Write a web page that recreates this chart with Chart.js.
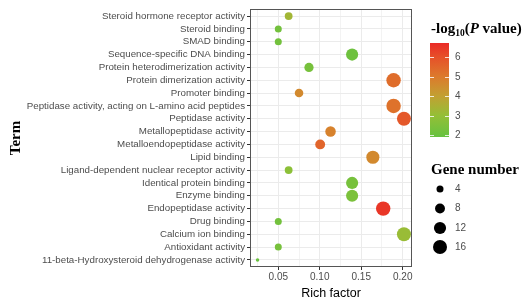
<!DOCTYPE html>
<html>
<head>
    <title>GO enrichment bubble chart</title>
    <style>
        body {
            margin: 0;
            padding: 0;
            background: #ffffff;
        }
        canvas {
            display: block;
        }
    </style>
    <script src="https://cdn.jsdelivr.net/npm/chart.js"></script>
</head>
<body>
    <canvas id="richChart" width="530" height="303"></canvas>

    <script>
        // Terms, top to bottom
        const terms = [
            'Steroid hormone receptor activity',
            'Steroid binding',
            'SMAD binding',
            'Sequence-specific DNA binding',
            'Protein heterodimerization activity',
            'Protein dimerization activity',
            'Promoter binding',
            'Peptidase activity, acting on L-amino acid peptides',
            'Peptidase activity',
            'Metallopeptidase activity',
            'Metalloendopeptidase activity',
            'Lipid binding',
            'Ligand-dependent nuclear receptor activity',
            'Identical protein binding',
            'Enzyme binding',
            'Endopeptidase activity',
            'Drug binding',
            'Calcium ion binding',
            'Antioxidant activity',
            '11-beta-Hydroxysteroid dehydrogenase activity'
        ];
        const richFactor = [0.0625, 0.05, 0.05, 0.139, 0.087, 0.189, 0.075, 0.189, 0.2015, 0.113,
                            0.1005, 0.164, 0.0625, 0.139, 0.139, 0.1765, 0.05, 0.2015, 0.05, 0.025];
        const geneNumber = [5, 4, 4, 12, 7, 17, 6, 17, 16, 9,
                            8, 14, 5, 12, 12, 17, 4, 16, 4, 1];
        const logP = [3.3, 2.2, 2.2, 2.1, 2.3, 5.3, 4.6, 5.2, 5.8, 4.8,
                      5.5, 4.6, 2.8, 2.3, 2.4, 6.5, 2.2, 3.1, 2.3, 2.0];

        const xTicks = [0.05, 0.10, 0.15, 0.20];
        const xMinorTicks = [0.025, 0.075, 0.125, 0.175];
        const colorTicks = [2, 3, 4, 5, 6];
        const sizeTicks = [4, 8, 12, 16];

        // colour scale (green -> red) and size scale
        const colorMin = 1.9, colorMax = 6.72;
        const colorStops = [
            [1.9, [102, 194, 64]],
            [3.0, [148, 191, 54]],
            [4.0, [194, 160, 50]],
            [5.0, [220, 122, 44]],
            [6.0, [230, 80, 41]],
            [6.72, [234, 42, 38]]
        ];
        function colorFor(v) {
            for (let i = 1; i < colorStops.length; i++) {
                if (v <= colorStops[i][0] || i === colorStops.length - 1) {
                    const a = colorStops[i - 1], b = colorStops[i];
                    const t = Math.max(0, Math.min(1, (v - a[0]) / (b[0] - a[0])));
                    const c = a[1].map((ch, k) => Math.round(ch + (b[1][k] - ch) * t));
                    return `rgb(${c[0]},${c[1]},${c[2]})`;
                }
            }
        }
        function radiusFor(n) {
            return 1.75 * Math.sqrt(n);
        }

        const points = terms.map((t, i) => ({ x: richFactor[i], y: i, r: radiusFor(geneNumber[i]) }));

        const panelBox = {
            id: 'panelBox',
            afterDatasetsDraw(chart) {
                const { ctx, chartArea: a } = chart;
                ctx.save();
                ctx.strokeStyle = '#555555';
                ctx.lineWidth = 1;
                ctx.strokeRect(a.left + 0.5, a.top + 0.5, a.right - a.left - 1, a.bottom - a.top - 1);
                ctx.restore();
            }
        };

        const sideLegend = {
            id: 'sideLegend',
            afterDraw(chart) {
                const ctx = chart.ctx;
                ctx.save();
                ctx.textBaseline = 'alphabetic';
                ctx.fillStyle = '#000';

                // colour legend title: -log10(P value)
                let x = 431, y = 33;
                ctx.font = 'bold 15px "Liberation Serif"';
                ctx.fillText('-log', x, y);
                x += ctx.measureText('-log').width;
                ctx.font = 'bold 9.5px "Liberation Serif"';
                ctx.fillText('10', x, y + 3);
                x += ctx.measureText('10').width;
                ctx.font = 'bold 15px "Liberation Serif"';
                ctx.fillText('(', x, y);
                x += ctx.measureText('(').width;
                ctx.font = 'italic bold 15px "Liberation Serif"';
                ctx.fillText('P', x, y);
                x += ctx.measureText('P').width;
                ctx.font = 'bold 15px "Liberation Serif"';
                ctx.fillText(' value)', x, y);

                // colour bar
                const barL = 430, barR = 449, barT = 43, barB = 137;
                const yOf = v => barB - (v - colorMin) / (colorMax - colorMin) * (barB - barT);
                const grad = ctx.createLinearGradient(0, barB, 0, barT);
                colorStops.forEach(s => {
                    grad.addColorStop((s[0] - colorMin) / (colorMax - colorMin), colorFor(s[0]));
                });
                ctx.fillStyle = grad;
                ctx.fillRect(barL, barT, barR - barL, barB - barT);
                ctx.strokeStyle = 'rgba(255,255,255,0.8)';
                ctx.lineWidth = 1;
                ctx.font = '10px "Liberation Sans"';
                ctx.textBaseline = 'middle';
                colorTicks.forEach(v => {
                    const ty = Math.round(yOf(v)) + 0.5;
                    ctx.beginPath();
                    ctx.moveTo(barL, ty); ctx.lineTo(barL + 4, ty);
                    ctx.moveTo(barR - 4, ty); ctx.lineTo(barR, ty);
                    ctx.stroke();
                    ctx.fillStyle = '#4d4d4d';
                    ctx.fillText(String(v), 455, ty);
                });

                // size legend
                ctx.textBaseline = 'alphabetic';
                ctx.fillStyle = '#000';
                ctx.font = 'bold 15px "Liberation Serif"';
                ctx.fillText('Gene number', 431, 174);
                const rowY = [189, 208.5, 228, 247];
                ctx.font = '10px "Liberation Sans"';
                ctx.textBaseline = 'middle';
                sizeTicks.forEach((n, i) => {
                    ctx.fillStyle = '#000';
                    ctx.beginPath();
                    ctx.arc(440, rowY[i], radiusFor(n), 0, Math.PI * 2);
                    ctx.fill();
                    ctx.fillStyle = '#4d4d4d';
                    ctx.fillText(String(n), 455, rowY[i]);
                });
                ctx.restore();
            }
        };

        const ctx = document.getElementById('richChart').getContext('2d');
        new Chart(ctx, {
            type: 'bubble',
            data: {
                datasets: [{
                    label: 'Gene number',
                    data: points,
                    backgroundColor: terms.map((t, i) => colorFor(logP[i])),
                    borderWidth: 0,
                    hoverBorderWidth: 0
                }]
            },
            options: {
                responsive: false,
                animation: false,
                events: [],
                layout: { padding: { top: 9, right: 118, left: 0, bottom: 0 } },
                plugins: {
                    legend: { display: false },
                    tooltip: { enabled: false }
                },
                scales: {
                    x: {
                        type: 'linear',
                        min: 0.0159,
                        max: 0.2112,
                        afterBuildTicks: scale => {
                            scale.ticks = [...xMinorTicks, ...xTicks].sort((a, b) => a - b).map(v => ({ value: v }));
                        },
                        afterFit: scale => { scale.height = 36; },
                        grid: {
                            color: '#ebebeb',
                            lineWidth: c => (c.tick && xMinorTicks.includes(c.tick.value)) ? 0.6 : 1,
                            tickColor: c => (c.tick && xMinorTicks.includes(c.tick.value)) ? 'rgba(0,0,0,0)' : '#333333',
                            tickLength: 3
                        },
                        border: { display: false },
                        ticks: {
                            autoSkip: false,
                            maxRotation: 0,
                            padding: 1,
                            color: '#4d4d4d',
                            font: { family: 'Liberation Sans', size: 10 },
                            callback: v => xTicks.some(t => Math.abs(t - v) < 1e-9) ? v.toFixed(2) : ''
                        },
                        title: {
                            display: true,
                            text: 'Rich factor',
                            color: '#000',
                            font: { family: 'Liberation Sans', size: 12.5 },
                            padding: { top: 0, bottom: 2 }
                        }
                    },
                    y: {
                        type: 'linear',
                        reverse: true,
                        min: -0.55,
                        max: terms.length - 1 + 0.55,
                        afterBuildTicks: scale => {
                            scale.ticks = terms.map((t, i) => ({ value: i }));
                        },
                        afterFit: scale => { scale.width = 250; },
                        grid: {
                            color: '#ebebeb',
                            lineWidth: 1,
                            tickColor: '#333333',
                            tickLength: 3
                        },
                        border: { display: false },
                        ticks: {
                            autoSkip: false,
                            padding: 2,
                            color: '#4d4d4d',
                            font: { family: 'Liberation Sans', size: 9.75 },
                            callback: v => terms[v]
                        },
                        title: {
                            display: true,
                            text: 'Term',
                            color: '#000',
                            font: { family: 'Liberation Serif', size: 15, weight: 'bold' },
                            padding: { top: 7, bottom: 0 }
                        }
                    }
                }
            },
            plugins: [panelBox, sideLegend]
        });
    </script>
</body>
</html>
